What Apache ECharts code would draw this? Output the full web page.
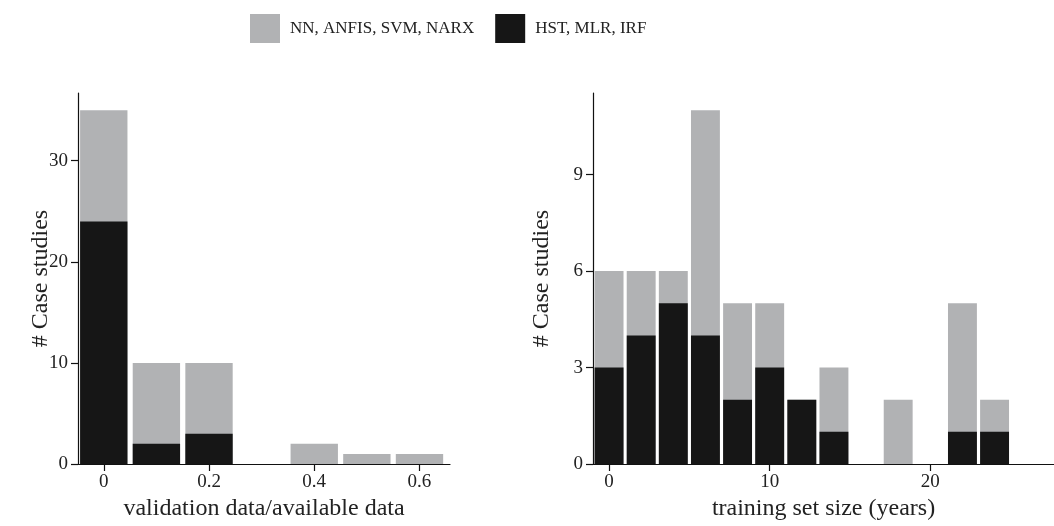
<!DOCTYPE html>
<html>
<head>
<meta charset="utf-8">
<title>Case studies</title>
<script src="https://cdn.jsdelivr.net/npm/echarts@6/dist/echarts.min.js"></script>
<style>
  html, body { margin: 0; padding: 0; background: #fff; }
  #chart { width: 1054px; height: 526px; }
</style>
</head>
<body>
<div id="chart"></div>
<script>
// left panel: validation data / available data (bin centres)
const validationBins = [0, 0.1, 0.2, 0.4, 0.5, 0.6];
const validationHst = [24, 2, 3, 0, 0, 0];
const validationNn = [11, 8, 7, 2, 1, 1];
const validationXTicks = [0, 0.2, 0.4, 0.6];
const validationYTicks = [0, 10, 20, 30];

// right panel: training set size in years (bin centres)
const trainingBins = [0, 2, 4, 6, 8, 10, 12, 14, 18, 22, 24];
const trainingHst = [3, 4, 5, 4, 2, 3, 2, 1, 0, 1, 1];
const trainingNn = [3, 2, 1, 7, 3, 2, 0, 2, 2, 4, 1];
const trainingXTicks = [0, 10, 20];
const trainingYTicks = [0, 3, 6, 9];

const NN_NAME = 'NN, ANFIS, SVM, NARX';
const HST_NAME = 'HST, MLR, IRF';
const GREY = '#b1b2b4';
const BLACK = '#161616';
const FONT = '"Liberation Serif", "Times New Roman", serif';

const pairs = (xs, ys) => xs.map((x, i) => [x, ys[i]]);
// grey bar shows the stack total, black bar is drawn over its lower part
const totals = (a, b) => a.map((v, i) => v + b[i]);

// shared axis look
const axisLine = { show: true, onZero: false, lineStyle: { color: '#111', width: 1.2 } };
const axisTick = (vals) => ({
  show: true,
  length: 7,
  customValues: vals,
  lineStyle: { color: '#111', width: 1.2 },
});
const axisLabel = (vals, margin) => ({
  customValues: vals,
  color: '#222',
  fontFamily: FONT,
  fontSize: 19,
  margin: margin,
});
const nameStyle = { color: '#222', fontFamily: FONT, fontSize: 24 };

const xAxis = (gridIndex, min, max, ticks, name) => ({
  type: 'value',
  gridIndex,
  min,
  max,
  name,
  nameLocation: 'middle',
  nameGap: 33,
  nameMoveOverlap: false,
  nameTextStyle: nameStyle,
  axisLine,
  axisTick: axisTick(ticks),
  axisLabel: axisLabel(ticks, 9),
  splitLine: { show: false },
});

const yAxis = (gridIndex, max, ticks, gap) => ({
  type: 'value',
  gridIndex,
  min: 0,
  max,
  name: '# Case studies',
  nameLocation: 'middle',
  nameGap: gap,
  nameMoveOverlap: false,
  nameTextStyle: nameStyle,
  axisLine,
  axisTick: axisTick(ticks),
  axisLabel: axisLabel(ticks, 10),
  splitLine: { show: false },
});

const barSeries = (name, idx, data, color) => ({
  name,
  type: 'bar',
  xAxisIndex: idx,
  yAxisIndex: idx,
  barWidth: '90%',
  barGap: '-100%',
  data,
  itemStyle: { color },
  emphasis: { disabled: true },
});

const option = {
  animation: false,
  backgroundColor: '#fff',
  legend: {
    left: 245,
    top: 9,
    itemWidth: 30,
    itemHeight: 29,
    itemGap: 21,
    icon: 'rect',
    data: [NN_NAME, HST_NAME],
    textStyle: { color: '#222', fontFamily: FONT, fontSize: 17, padding: [0, 0, 0, 5] },
  },
  grid: [
    { left: 78, right: 604, top: 93, bottom: 60 },
    { left: 593, right: 0, top: 93, bottom: 60 },
  ],
  xAxis: [
    xAxis(0, -0.049, 0.658, validationXTicks, 'validation data/available data'),
    xAxis(1, -1, 27.7, trainingXTicks, 'training set size (years)'),
  ],
  yAxis: [
    yAxis(0, 36.7, validationYTicks, 25),
    yAxis(1, 11.54, trainingYTicks, 39),
  ],
  series: [
    barSeries(NN_NAME, 0, pairs(validationBins, totals(validationHst, validationNn)), GREY),
    barSeries(HST_NAME, 0, pairs(validationBins, validationHst), BLACK),
    barSeries(NN_NAME, 1, pairs(trainingBins, totals(trainingHst, trainingNn)), GREY),
    barSeries(HST_NAME, 1, pairs(trainingBins, trainingHst), BLACK),
  ],
};

const myChart = echarts.init(document.getElementById('chart'));
myChart.setOption(option);
window.addEventListener('resize', () => {
  myChart.resize();
});
</script>
</body>
</html>
